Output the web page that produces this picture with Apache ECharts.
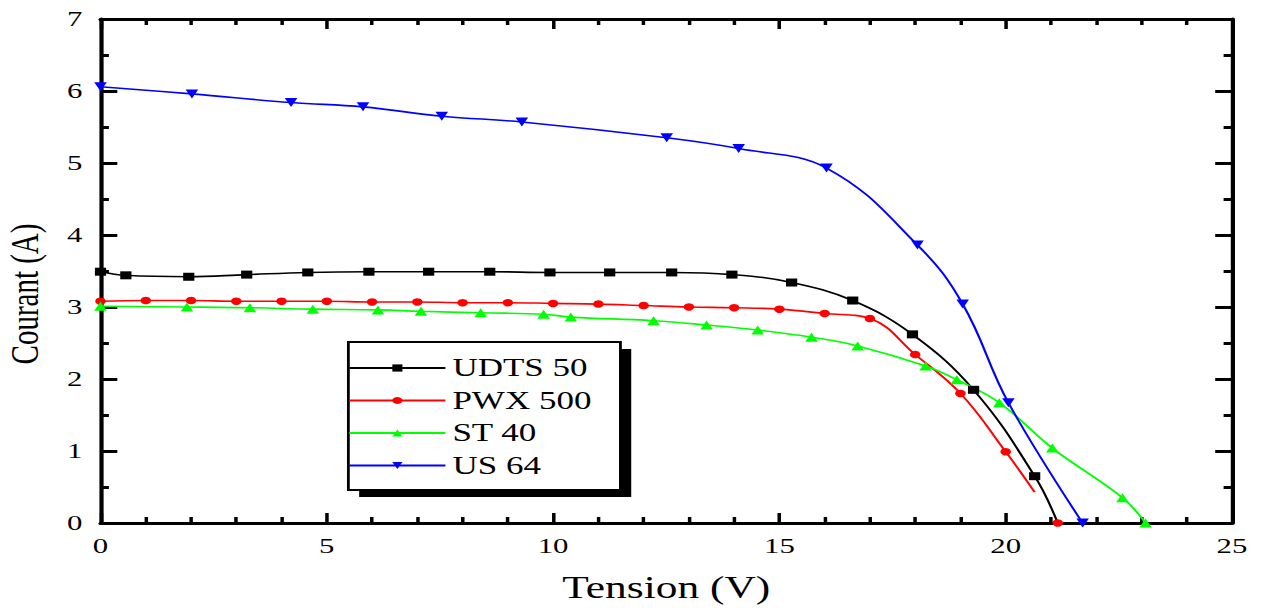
<!DOCTYPE html>
<html><head><meta charset="utf-8">
<script src="https://cdn.jsdelivr.net/npm/echarts@6/dist/echarts.min.js"></script>
<style>
html,body{margin:0;padding:0;background:#fff;overflow:hidden}
#wrap{width:1263px;height:608px;overflow:hidden}
#c{width:902px;height:608px;transform:scaleX(1.400222);transform-origin:0 0}
</style>
</head><body><div id="wrap"><div id="c"></div></div>
<script>
// ---- data (Tension V, Courant A) ----
const seriesNames = ['UDTS 50', 'PWX 500', 'ST 40', 'US 64'];

const udtsV = [0, 0.56, 1.95, 3.23, 4.58, 5.93, 7.25, 8.6, 9.93, 11.25, 12.62, 13.95, 15.27, 16.62, 17.94, 19.29, 20.64, 21.15];
const udtsI = [3.49, 3.44, 3.42, 3.45, 3.48, 3.49, 3.49, 3.49, 3.48, 3.48, 3.48, 3.45, 3.34, 3.09, 2.62, 1.85, 0.65, 0];

const pwxV = [0, 1, 2, 3, 4, 5, 6, 7, 8, 9, 10, 11, 12, 13, 14, 15, 16, 17, 18, 19, 20, 20.64];
const pwxI = [3.08, 3.09, 3.09, 3.08, 3.08, 3.08, 3.07, 3.07, 3.06, 3.06, 3.05, 3.04, 3.02, 3.00, 2.99, 2.97, 2.91, 2.84, 2.34, 1.80, 0.99, 0.43];
const pwxIscV = [21.15];
const pwxIscI = [0];

const stV = [0, 1.91, 3.30, 4.69, 6.13, 7.08, 8.4, 9.79, 10.39, 12.22, 13.39, 14.52, 15.71, 16.73, 18.23, 18.92, 19.86, 21.03, 22.58, 23.09];
const stI = [3.01, 3.00, 2.99, 2.97, 2.96, 2.94, 2.92, 2.90, 2.86, 2.81, 2.75, 2.68, 2.58, 2.46, 2.18, 1.99, 1.67, 1.04, 0.35, 0];

const usV = [0, 2.02, 4.21, 5.8, 7.54, 9.31, 12.51, 14.1, 16.04, 18.05, 19.05, 20.06, 21.70];
const usI = [6.06, 5.96, 5.84, 5.78, 5.65, 5.57, 5.35, 5.20, 4.93, 3.86, 3.04, 1.67, 0];

const xTicks = {min: 0, max: 25, interval: 5};
const yTicks = {min: 0, max: 7, interval: 1};
// -------------------------------------

const FONT = "'Liberation Serif', 'Times New Roman', serif";
const zip = (a, b) => a.map((v, i) => [v, b[i]]);

const pwxData = zip(pwxV, pwxI);
pwxData[pwxData.length - 1] = {value: pwxData[pwxData.length - 1], symbol: 'none'};
const udtsData = zip(udtsV, udtsI);
udtsData[udtsData.length - 1] = {value: udtsData[udtsData.length - 1], symbol: 'none'};

const axisCommonX = {
  type: 'value', min: xTicks.min, max: xTicks.max, interval: xTicks.interval,
  axisLine: {show: true, onZero: false, lineStyle: {color: '#000', width: 3}},
  axisTick: {show: true, inside: true, length: 10, lineStyle: {color: '#000', width: 2.5}},
  minorTick: {show: true, splitNumber: 5, length: 6, lineStyle: {color: '#000', width: 2.5}},
  splitLine: {show: false}, minorSplitLine: {show: false}
};
const axisCommonY = {
  type: 'value', min: yTicks.min, max: yTicks.max, interval: yTicks.interval,
  axisLine: {show: true, onZero: false, lineStyle: {color: '#000', width: 3}},
  axisTick: {show: true, inside: true, length: 12, lineStyle: {color: '#000', width: 3}},
  minorTick: {show: true, splitNumber: 2, length: 6, lineStyle: {color: '#000', width: 3}},
  splitLine: {show: false}, minorSplitLine: {show: false}
};

function lineSeries(name, data, color, symbol, size, extra) {
  return Object.assign({
    name: name, type: 'line', data: data, smooth: 0.4,
    symbol: symbol, symbolSize: size, showAllSymbol: true,
    lineStyle: {color: color, width: 1.6},
    itemStyle: {color: color},
    emphasis: {disabled: true},
    animation: false
  }, extra || {});
}

const chart = echarts.init(document.getElementById('c'), null, {renderer: 'svg'});
chart.setOption({
  backgroundColor: '#fff',
  animation: false,
  grid: {left: 71.78, right: 22.14, top: 19, bottom: 82.5, containLabel: false},
  xAxis: [
    Object.assign({}, axisCommonX, {
      position: 'bottom',
      axisLabel: {show: true, fontFamily: FONT, fontSize: 22, color: '#000', margin: 12},
      name: 'Tension (V)', nameLocation: 'middle', nameGap: 49,
      nameTextStyle: {fontFamily: FONT, fontSize: 31, color: '#000'}
    }),
    Object.assign({}, axisCommonX, {position: 'top', axisLabel: {show: false}})
  ],
  yAxis: [
    Object.assign({}, axisCommonY, {
      position: 'left',
      axisLabel: {show: true, fontFamily: FONT, fontSize: 22, color: '#000', margin: 13}
    }),
    Object.assign({}, axisCommonY, {position: 'right', axisLabel: {show: false}})
  ],
  legend: {
    data: seriesNames, orient: 'vertical', left: 248.5, top: 355.5, padding: 0,
    itemGap: 7.5, itemWidth: 68.6, itemHeight: 9, selectedMode: false,
    textStyle: {fontFamily: FONT, fontSize: 25, color: '#000'}, z: 10
  },
  graphic: [
    {type: 'rect', left: 256.5, top: 349, z: 5, shape: {width: 194.3, height: 148}, style: {fill: '#000'}},
    {type: 'rect', left: 247.8, top: 341, z: 6, shape: {width: 194.3, height: 148}, style: {fill: '#fff', stroke: '#000', lineWidth: 2}},
    {type: 'text', x: 17.4, y: 294, rotation: Math.PI / 2, z: 6,
     style: {text: 'Courant (A)', font: "29px 'Liberation Serif', 'Times New Roman', serif", fill: '#000', align: 'center', verticalAlign: 'middle'}}
  ],
  series: [
    lineSeries('UDTS 50', udtsData, '#000000', 'rect', 8),
    lineSeries('PWX 500', pwxData, '#ff0000', 'circle', 7.5),
    lineSeries('PWX 500 Isc', zip(pwxIscV, pwxIscI), '#ff0000', 'circle', 7.5),
    lineSeries('ST 40', zip(stV, stI), '#00ff00', 'triangle', 9),
    lineSeries('US 64', zip(usV, usI), '#0000ff', 'triangle', 9, {symbolRotate: 180})
  ]
});
</script>
</body></html>
